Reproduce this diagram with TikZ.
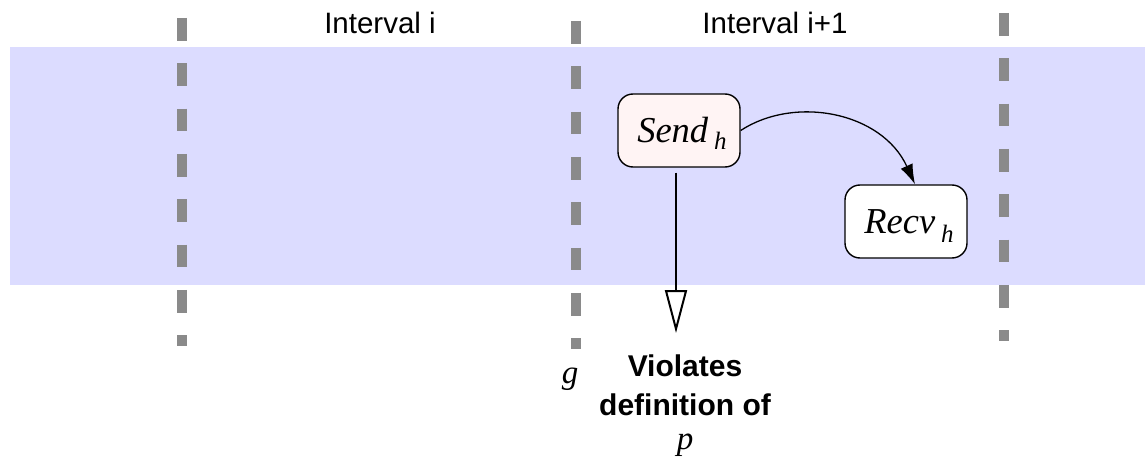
\documentclass[tikz,border=0pt]{standalone}
\usepackage{fontspec}
\setmainfont{Liberation Serif}
\newfontfamily\labelsans{Liberation Sans}
\usetikzlibrary{arrows.meta}
\definecolor{band}{RGB}{220,220,255}
\definecolor{gridgray}{RGB}{138,138,138}
\definecolor{sendfill}{RGB}{255,244,244}
% subscript-style index set lower and smaller than the event name
\newcommand{\evidx}[2]{\hspace{6pt}\raisebox{-#1}{\fontsize{25}{28}\selectfont #2}}

\begin{document}
\begin{tikzpicture}[x=1pt,y=-1pt,
  boundary/.style={draw=gridgray, line width=10pt, dash pattern=on 22.7pt off 22.6pt},
  event/.style={draw, line width=1.4pt, rounded corners=15pt, minimum width=122pt,
    minimum height=73pt, inner sep=0pt, text height=24pt, text depth=0pt,
    font=\fontsize{36.5}{40}\selectfont\itshape},
  heading/.style={font=\fontsize{29.5}{34}\selectfont\labelsans, anchor=base},
  msg/.style={line width=1.3pt, -{Latex[length=20pt,width=13pt]}},
  violation/.style={line width=2pt, -{Triangle[length=43pt,width=22pt,fill=white,line width=2pt]}},
  note/.style={font=\fontsize{33}{40}\selectfont\itshape, anchor=base},
]
\useasboundingbox (0,0) rectangle (1145,457);

% shaded band across the interval boundaries
\fill[band] (10,47) rectangle (1145,285);

% interval boundaries
\draw[boundary] (182,18) -- (182,346);
\draw[boundary] (576,21) -- (576,349);
\draw[boundary] (1004,13) -- (1004,341);

% interval headings
\node[heading] (ti)  at (380,34) {Interval i};
\node[heading] (ti1) at (775,34) {Interval i+1};

% events (text sits slightly right of the box centre)
\node[event, fill=sendfill] (send) at (679,130.5) {\hspace{6pt}Send\evidx{7pt}{h}};
\node[event, fill=white]    (recv) at (906,221.5) {\hspace{6pt}Recv\evidx{9pt}{h}};

% message from send to receive
\draw[msg] (send.east) .. controls (795,95) and (882,112) .. ([xshift=9pt]recv.north);

% violation arrow
\coordinate (vtip) at (676,333);
\draw[violation, shorten <=5pt] (send.south -| vtip) -- (vtip);

% labels
\node[note] (g) at (570,383) {g};
\node[align=center, inner sep=0pt, anchor=north,
  font=\fontsize{30}{39}\selectfont\labelsans\bfseries] (viol) at (685,355)
  {Violates\\definition of\\[-5pt]{\rmfamily\mdseries\itshape\fontsize{33}{39}\selectfont p}};
\end{tikzpicture}
\end{document}
